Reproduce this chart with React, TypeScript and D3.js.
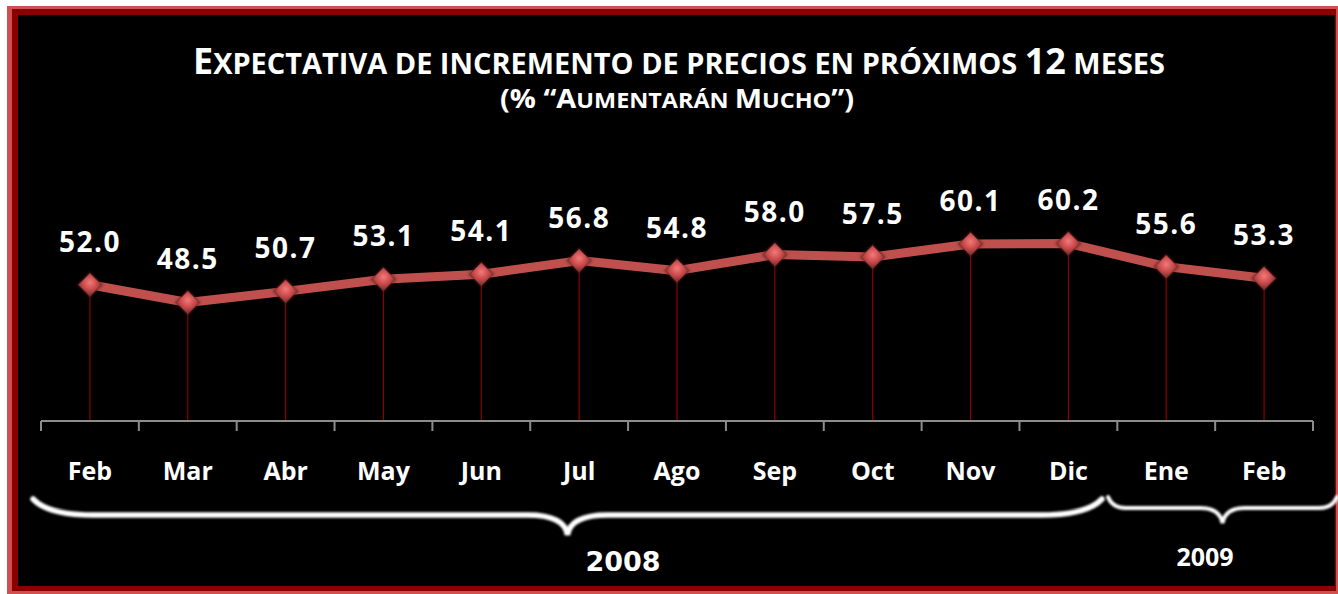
import React from "react";
import * as d3 from "d3";

const months = ["Feb", "Mar", "Abr", "May", "Jun", "Jul", "Ago", "Sep", "Oct", "Nov", "Dic", "Ene", "Feb"];
const values = [52.0, 48.5, 50.7, 53.1, 54.1, 56.8, 54.8, 58.0, 57.5, 60.1, 60.2, 55.6, 53.3];
const yearGroups = [
  { label: "2008", from: 0, to: 10 },
  { label: "2009", from: 11, to: 12 },
];
const yDomain = [25, 70];

const W = 1338;
const H = 594;

export default function App() {
  const keys = months.map((_, i) => String(i));
  const x = d3.scaleBand<string>().domain(keys).range([41, 1313]).padding(0);
  const y = d3.scaleLinear().domain(yDomain).range([421, 194]);
  const cx = (i: number) => (x(String(i)) as number) + x.bandwidth() / 2;
  const axisY = y(yDomain[0]);

  const line = d3
    .line<number>()
    .x((_, i) => cx(i))
    .y((d) => y(d));

  const ticks = d3.range(months.length + 1).map((i) => 41 + i * x.bandwidth());

  const diamond = (px: number, py: number, r: number) =>
    `M${px},${py - r}L${px + r},${py}L${px},${py + r}L${px - r},${py}Z`;

  const brace = (x0: number, x1: number, yEnd: number, yLine: number, yTip: number, curl: number, tipW: number) => {
    const xm = (x0 + x1) / 2;
    return [
      `M${x0},${yEnd}`,
      `Q${x0 + curl * 0.25},${yLine} ${x0 + curl},${yLine}`,
      `L${xm - tipW},${yLine}`,
      `Q${xm - 3},${yLine} ${xm},${yTip}`,
      `Q${xm + 3},${yLine} ${xm + tipW},${yLine}`,
      `L${x1 - curl},${yLine}`,
      `Q${x1 - curl * 0.25},${yLine} ${x1},${yEnd}`,
    ].join(" ");
  };

  const font = "'Open Sans', Lato, sans-serif";

  return (
    <svg
      width={W}
      height={H}
      style={{ position: "absolute", left: 0, top: 0, display: "block" }}
      xmlns="http://www.w3.org/2000/svg"
    >
      <defs>
        <radialGradient id="mk" cx="50%" cy="40%" r="60%">
          <stop offset="0%" stopColor="#f27a7a" />
          <stop offset="55%" stopColor="#c84848" />
          <stop offset="100%" stopColor="#6e2a2a" />
        </radialGradient>
        <filter id="soft" x="-20%" y="-20%" width="140%" height="140%">
          <feGaussianBlur stdDeviation="0.9" />
        </filter>
      </defs>
      <rect x={0} y={0} width={W} height={H} fill="#ffffff" />
      <rect x={7} y={6} width={W - 7} height={H - 6} fill="#d05050" />
      <rect x={12} y={9} width={W - 14} height={H - 9 - 3} fill="#8b0000" />
      <rect x={18} y={15} width={1317} height={571} fill="#000000" />

      <text
        x={679}
        y={74}
        textAnchor="middle"
        fill="#ffffff"
        fontFamily={font}
        fontWeight={700}
        textLength={972}
        lengthAdjust="spacingAndGlyphs"
      >
        <tspan fontSize={36}>E</tspan>
        <tspan fontSize={29}>XPECTATIVA DE INCREMENTO DE PRECIOS EN PRÓXIMOS </tspan>
        <tspan fontSize={36}>12</tspan>
        <tspan fontSize={29}> MESES</tspan>
      </text>
      <text
        x={677}
        y={108}
        textAnchor="middle"
        fill="#ffffff"
        fontFamily={font}
        fontWeight={700}
        textLength={354}
        lengthAdjust="spacingAndGlyphs"
      >
        <tspan fontSize={26}>(% “A</tspan>
        <tspan fontSize={21}>UMENTARÁN </tspan>
        <tspan fontSize={26}>M</tspan>
        <tspan fontSize={21}>UCHO</tspan>
        <tspan fontSize={26}>”)</tspan>
      </text>

      {values.map((v, i) => (
        <line key={"d" + i} x1={cx(i)} x2={cx(i)} y1={y(v)} y2={axisY} stroke="#8b0000" strokeWidth={1.2} />
      ))}

      <line x1={41} x2={1313} y1={axisY} y2={axisY} stroke="#8c8c8c" strokeWidth={2} />
      {ticks.map((t, i) => (
        <line key={"t" + i} x1={t} x2={t} y1={axisY} y2={axisY + 10} stroke="#8c8c8c" strokeWidth={2} />
      ))}

      <path d={line(values) || ""} fill="none" stroke="#c0504d" strokeWidth={9} strokeLinejoin="round" />

      {values.map((v, i) => (
        <g key={"m" + i}>
          <path d={diamond(cx(i), y(v), 13.5)} fill="#5a2020" opacity={0.55} filter="url(#soft)" />
          <path d={diamond(cx(i), y(v), 11.5)} fill="url(#mk)" stroke="#7a3030" strokeWidth={0.8} />
        </g>
      ))}

      {values.map((v, i) => (
        <text
          key={"v" + i}
          x={cx(i)}
          y={y(v) - 33}
          textAnchor="middle"
          fill="#ffffff"
          fontFamily={font}
          fontWeight={700}
          fontSize={28}
          letterSpacing={1.5}
        >
          {d3.format(".1f")(v)}
        </text>
      ))}

      {months.map((m, i) => (
        <text
          key={"c" + i}
          x={cx(i)}
          y={480}
          textAnchor="middle"
          fill="#ffffff"
          fontFamily={font}
          fontWeight={700}
          fontSize={25}
        >
          {m}
        </text>
      ))}

      <path
        d={brace(33, 1102, 499, 515, 535, 60, 40)}
        fill="none"
        stroke="#ffffff"
        strokeWidth={5.5}
        strokeLinecap="round"
        filter="url(#soft)"
      />
      <path
        d={brace(1108, 1337, 497, 508, 523, 18, 22)}
        fill="none"
        stroke="#ffffff"
        strokeWidth={4}
        strokeLinecap="round"
        filter="url(#soft)"
      />

      <text
        x={623}
        y={571}
        textAnchor="middle"
        fill="#ffffff"
        fontFamily="'DejaVu Sans', sans-serif"
        fontWeight={700}
        fontSize={27}
      >
        {yearGroups[0].label}
      </text>
      <text
        x={1205}
        y={566}
        textAnchor="middle"
        fill="#ffffff"
        fontFamily={font}
        fontWeight={700}
        fontSize={25}
      >
        {yearGroups[1].label}
      </text>
    </svg>
  );
}
